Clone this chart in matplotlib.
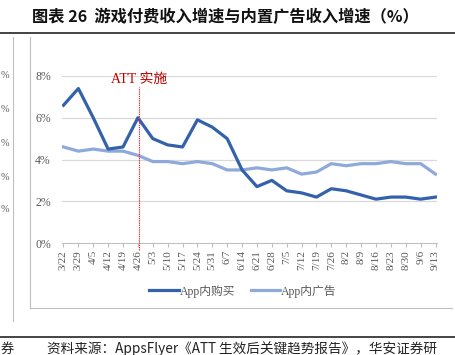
import matplotlib

matplotlib.use("Agg")
import matplotlib.pyplot as plt
from matplotlib.lines import Line2D

# ── data ────────────────────────────────────────────────────────────────────
DATES = ["3/22", "3/29", "4/5", "4/12", "4/19", "4/26", "5/3", "5/10", "5/17",
         "5/24", "5/31", "6/7", "6/14", "6/21", "6/28", "7/5", "7/12", "7/19",
         "7/26", "8/2", "8/9", "8/16", "8/23", "8/30", "9/6", "9/13"]
IAP = [6.6, 7.4, 6.0, 4.5, 4.6, 6.0, 5.0, 4.7, 4.6, 5.9, 5.55, 5.0, 3.5, 2.7,
       3.0, 2.5, 2.4, 2.2, 2.6, 2.5, 2.3, 2.1, 2.2, 2.2, 2.1, 2.2]
IAA = [4.6, 4.4, 4.5, 4.4, 4.4, 4.2, 3.9, 3.9, 3.8, 3.9, 3.8, 3.5, 3.5, 3.6,
       3.5, 3.6, 3.3, 3.4, 3.8, 3.7, 3.8, 3.8, 3.9, 3.8, 3.8, 3.3]
YTICKS = [0, 2, 4, 6, 8]
ATT_POS = 5.1
LABEL_IAP = "App内购买"
LABEL_IAA = "App内广告"
TITLE = "图表 26  游戏付费收入增速与内置广告收入增速（%）"
SOURCE = "资料来源：AppsFlyer《ATT 生效后关键趋势报告》，华安证券研"

C_DARK = "#3461ab"
C_LIGHT = "#8eaadb"
GREY = "#595959"
GRID = "#d9d9d9"
SERIF = ["Liberation Serif", "Noto Sans CJK SC"]
CJK = ["Noto Sans CJK SC", "DejaVu Sans"]

W, H = 455, 355


def fx(px):
    return px / W


def fy(py):
    return 1 - py / H


fig = plt.figure(figsize=(W / 100, H / 100), dpi=100)

# ── page furniture around the chart ─────────────────────────────────────────
fig.text(fx(32), fy(17), TITLE, family=CJK, fontsize=11.7, fontweight="bold",
         ha="left", va="center", color="#111111")
fig.add_artist(Line2D([0, 1], [fy(33), fy(33)], color="#111111", lw=1.1))
fig.add_artist(Line2D([0, 1], [fy(337), fy(337)], color="#111111", lw=1.1))
fig.add_artist(Line2D([fx(13), fx(13)], [fy(37), fy(321)], color="#bfbfbf", lw=0.8))
fig.add_artist(Line2D([fx(30), fx(30)], [fy(37), fy(308)], color="#bfbfbf", lw=0.8))
fig.add_artist(Line2D([fx(30), fx(452)], [fy(308), fy(308)], color="#bfbfbf", lw=0.8))
for py in (76, 110, 143, 177, 210):
    fig.text(fx(1), fy(py), "%", family=SERIF, fontsize=7.5, color=GREY,
             ha="left", va="center")
fig.text(fx(1), fy(349), "券", family=CJK, fontsize=9.5, ha="left",
         va="center", color="#222222")
fig.text(fx(47), fy(349), SOURCE, family=CJK, fontsize=9.8, ha="left",
         va="center", color="#222222")

# ── chart ───────────────────────────────────────────────────────────────────
ax = fig.add_axes([fx(62), fy(243), fx(437) - fx(62), fy(76) - fy(243)])
x = list(range(len(DATES)))
ax.plot(x, IAA, color=C_LIGHT, lw=2.3, solid_joinstyle="round", zorder=3,
        label=LABEL_IAA)
ax.plot(x, IAP, color=C_DARK, lw=2.3, solid_joinstyle="round", zorder=4,
        label=LABEL_IAP)

ax.set_xlim(-0.1, len(DATES) - 0.9)
ax.set_ylim(0, 8)
ax.set_yticks(YTICKS)
ax.set_yticklabels([f"{v}%" for v in YTICKS], family=SERIF, fontsize=8.5,
                   color=GREY)
ax.set_xticks(x)
ax.set_xticklabels(DATES, rotation=90, family=SERIF, fontsize=8, color=GREY)
ax.tick_params(axis="y", length=0, pad=8)
ax.tick_params(axis="x", length=3, color="#bfbfbf", direction="out", pad=2)
for s in ("top", "right", "left"):
    ax.spines[s].set_visible(False)
ax.spines["bottom"].set_color("#bfbfbf")
ax.spines["bottom"].set_linewidth(0.8)
for v in YTICKS[1:]:
    ax.axhline(v, color=GRID, lw=0.9, zorder=1)

# ATT marker
ax.plot([ATT_POS, ATT_POS], [-0.35, 7.45], color="#ff2020", lw=0.8,
        ls=(0, (1.2, 0.8)), clip_on=False, zorder=5)
ax.text(ATT_POS, 7.85, "ATT 实施", family=SERIF, fontsize=10, color="#c00000",
        ha="center", va="center")

h = [Line2D([], [], color=C_DARK, lw=2.3), Line2D([], [], color=C_LIGHT, lw=2.3)]
leg = fig.legend(h, [LABEL_IAP, LABEL_IAA], loc="center",
                 bbox_to_anchor=(fx(243), fy(291)), ncol=2, frameon=False,
                 handlelength=2.5, handletextpad=0.1, columnspacing=1.3,
                 prop={"family": SERIF, "size": 8.5})
for t in leg.get_texts():
    t.set_color(GREY)

fig.savefig("out.png", dpi=100)
